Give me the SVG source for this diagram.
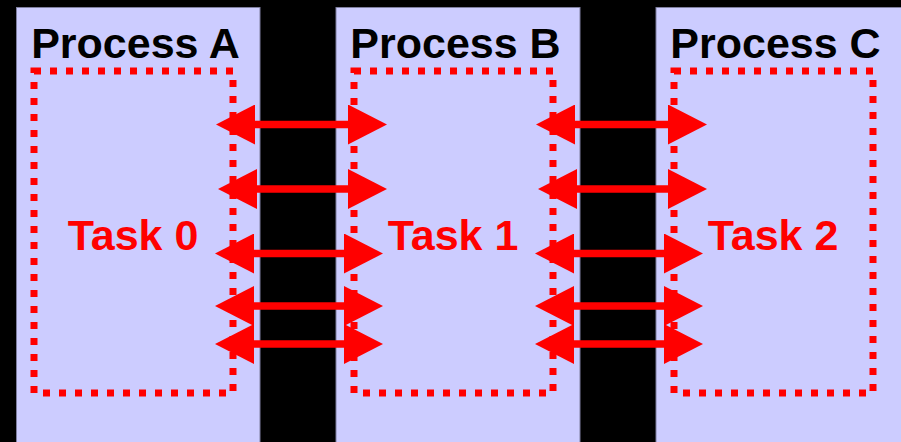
<svg xmlns="http://www.w3.org/2000/svg" width="901" height="442" viewBox="0 0 901 442">
  <defs>
    <style>
      .proc { fill: #ccccff; stroke: #7f7f9f; stroke-width: 1; }
      .task { fill: none; stroke: #ff0000; stroke-width: 7; stroke-dasharray: 7 9; }
      .title { font-family: "Liberation Sans", Arial, sans-serif; font-weight: bold; font-size: 43px; fill: #000000; text-anchor: middle; }
      .tlabel { font-family: "Liberation Sans", Arial, sans-serif; font-weight: bold; font-size: 43px; fill: #ff0000; text-anchor: middle; }
      .arr { stroke: #ff0000; stroke-width: 7.5; fill: none; marker-start: url(#head); marker-end: url(#head); }
    </style>
    <marker id="head" markerUnits="userSpaceOnUse" markerWidth="40" markerHeight="40" refX="0" refY="20" orient="auto-start-reverse" viewBox="0 0 40 40">
      <path d="M0,0 L39,20 L0,40 Z" fill="#ff0000"/>
    </marker>
  </defs>
  <rect x="0" y="0" width="901" height="442" fill="#000000"/>

  <g id="processA">
    <rect class="proc" x="16.5" y="7.5" width="243.5" height="440"/>
    <text class="title" x="135.5" y="57.5">Process A</text>
  </g>
  <g id="processB">
    <rect class="proc" x="336" y="7.5" width="244" height="440"/>
    <text class="title" x="455.5" y="57.5">Process B</text>
  </g>
  <g id="processC">
    <rect class="proc" x="656" y="7.5" width="250" height="440"/>
    <text class="title" x="775.5" y="57.5">Process C</text>
  </g>

  <g id="task0">
    <rect class="task" x="34" y="71" width="199" height="322"/>
    <text class="tlabel" x="133" y="249.5">Task 0</text>
  </g>
  <g id="task1">
    <rect class="task" x="354" y="71" width="199" height="322"/>
    <text class="tlabel" x="453" y="249.5">Task 1</text>
  </g>
  <g id="task2">
    <rect class="task" x="674" y="71" width="199" height="322"/>
    <text class="tlabel" x="773" y="249.5">Task 2</text>
  </g>

  <g id="connectors">
    <line class="arr" x1="255" y1="124.5" x2="348" y2="124.5"/>
    <line class="arr" x1="257" y1="189" x2="348" y2="189"/>
    <line class="arr" x1="254" y1="253.5" x2="344" y2="253.5"/>
    <line class="arr" x1="254" y1="306" x2="344" y2="306"/>
    <line class="arr" x1="254" y1="344" x2="344" y2="344"/>

    <line class="arr" x1="575" y1="124.5" x2="668" y2="124.5"/>
    <line class="arr" x1="577" y1="189" x2="668" y2="189"/>
    <line class="arr" x1="574" y1="253.5" x2="664" y2="253.5"/>
    <line class="arr" x1="574" y1="306" x2="664" y2="306"/>
    <line class="arr" x1="574" y1="344" x2="664" y2="344"/>
  </g>
</svg>
